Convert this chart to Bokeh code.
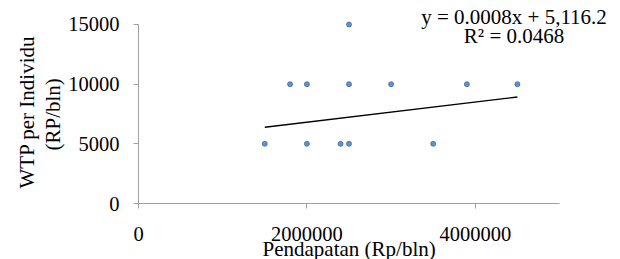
from bokeh.plotting import figure
from bokeh.models import FixedTicker, NumeralTickFormatter, Range1d, Label, ColumnDataSource, Title
from bokeh.embed import file_html
from bokeh.resources import INLINE

# data
income = [1500000, 1800000, 2000000, 2000000, 2400000, 2500000, 2500000, 2500000, 3000000, 3500000, 3900000, 4500000]
wtp = [5000, 10000, 10000, 5000, 5000, 5000, 10000, 15000, 10000, 5000, 10000, 10000]
x_ticks = [0, 2000000, 4000000]
y_ticks = [0, 5000, 10000, 15000]
x_axis_max = 5000000
y_axis_max = 15000
trend_slope = 0.000846
trend_intercept = 5116.2
eq_text = "y = 0.0008x + 5,116.2"
r2_text = "R² = 0.0468"
x_title = "Pendapatan (Rp/bln)"
y_title_lines = ["WTP per Individu", "(RP/bln)"]

FONT = "Times New Roman"

# frame spans to the canvas top/right so the equation text is not clipped;
# the axis lines are bounded to the real data extent
p = figure(width=620, height=259, output_backend="svg", toolbar_location=None,
           x_range=Range1d(0, 5724500), y_range=Range1d(0, 17010),
           min_border_left=138, min_border_right=0, min_border_top=0, min_border_bottom=56)
p.outline_line_color = None
p.xgrid.visible = False
p.ygrid.visible = False

tx = [min(income), max(income)]
ty = [trend_slope * v + trend_intercept for v in tx]
p.line(tx, ty, line_color="black", line_width=1.4)

src = ColumnDataSource(dict(x=income, y=wtp))
p.scatter("x", "y", source=src, size=5, fill_color="#5b95dc", line_color="#2c4a78", line_width=0.6)

for ax in (p.xaxis[0], p.yaxis[0]):
    ax.axis_line_color = "#a0a0a0"
    ax.major_tick_line_color = "#a0a0a0"
    ax.minor_tick_line_color = None
    ax.major_tick_out = 5
    ax.major_tick_in = 0
    ax.major_label_text_font = FONT
    ax.major_label_text_font_size = "20.5px"
    ax.major_label_text_color = "black"

p.xaxis.bounds = (0, x_axis_max)
p.yaxis.bounds = (0, y_axis_max)
p.xaxis.ticker = FixedTicker(ticks=x_ticks)
p.yaxis.ticker = FixedTicker(ticks=y_ticks)
p.xaxis.formatter = NumeralTickFormatter(format="0")
p.yaxis.formatter = NumeralTickFormatter(format="0")
p.xaxis.major_label_standoff = 18
p.yaxis.major_label_standoff = 14

def title(text, offset, standoff, valign):
    return Title(text=text, align="left", offset=offset, standoff=standoff,
                 text_font=FONT, text_font_size="21px", text_font_style="normal",
                 text_color="black", vertical_align=valign)

p.add_layout(title(x_title, 124, -14, "top"), "below")
p.add_layout(title(y_title_lines[1], 53, 0, "middle"), "left")
p.add_layout(title(y_title_lines[0], 15, 0, "middle"), "left")

p.add_layout(Label(x=4460000, y=y_axis_max, text=eq_text, text_align="center", text_baseline="middle",
                   y_offset=7, text_font=FONT, text_font_size="21px", text_color="black"))
p.add_layout(Label(x=4460000, y=y_axis_max, text=r2_text, text_align="center", text_baseline="middle",
                   y_offset=-12, text_font=FONT, text_font_size="21px", text_color="black"))

open("out.html", "w").write(file_html(p, INLINE))
